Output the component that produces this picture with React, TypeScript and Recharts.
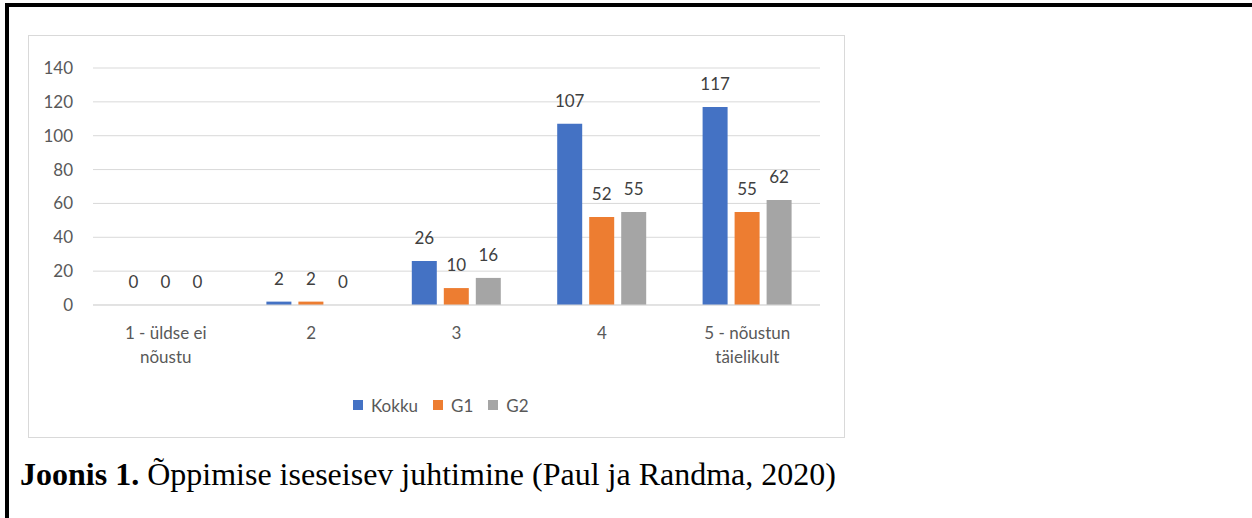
import { Bar, BarChart, CartesianGrid, LabelList, Legend, XAxis, YAxis } from "recharts";

const categories = ["1 - üldse ei\nnõustu", "2", "3", "4", "5 - nõustun\ntäielikult"];
const kokku = [0, 2, 26, 107, 117];
const g1 = [0, 2, 10, 52, 55];
const g2 = [0, 0, 16, 55, 62];
const yTicks = [0, 20, 40, 60, 80, 100, 120, 140];

const series = [
  { key: "Kokku", color: "#4472C4" },
  { key: "G1", color: "#ED7D31" },
  { key: "G2", color: "#A5A5A5" },
];

const data = categories.map((name, i) => ({
  name,
  Kokku: kokku[i],
  G1: g1[i],
  G2: g2[i],
}));

const FONT = "Lato, 'Open Sans', sans-serif";

function CategoryTick({ x, y, payload }: any) {
  const lines = String(payload.value).split("\n");
  return (
    <text x={x} y={y} textAnchor="middle" fill="#595959" fontSize={17} fontFamily={FONT}>
      {lines.map((line, i) => (
        <tspan key={i} x={x} dy={i === 0 ? 34 : 24}>
          {line}
        </tspan>
      ))}
    </text>
  );
}

function LegendContent({ payload }: any) {
  const order = series.map((s) => s.key);
  const items = [...(payload ?? [])].sort(
    (a: any, b: any) => order.indexOf(a.value) - order.indexOf(b.value)
  );
  return (
    <div style={{ display: "flex", alignItems: "center", height: 30, paddingLeft: 324 }}>
      {items.map((p: any, i: number) => (
        <span
          key={p.value}
          style={{ display: "flex", alignItems: "center", marginRight: i < items.length - 1 ? 15 : 0 }}
        >
          <span style={{ width: 10, height: 10, background: p.color, marginRight: 8 }} />
          <span style={{ color: "#595959", fontSize: 17, fontFamily: FONT }}>{p.value}</span>
        </span>
      ))}
    </div>
  );
}

export default function App() {
  return (
    <div style={{ position: "absolute", left: 0, top: 0, width: 1252, height: 518, overflow: "hidden", background: "#fff" }}>
      <div
        style={{
          position: "absolute",
          left: 5,
          top: 3,
          width: 1247,
          height: 515,
          borderTop: "4px solid #000",
          borderLeft: "4px solid #000",
        }}
      />
      <div
        style={{
          position: "absolute",
          left: 28,
          top: 35,
          width: 815,
          height: 401,
          border: "1px solid #d9d9d9",
        }}
      >
        <BarChart
          width={815}
          height={401}
          data={data}
          margin={{ top: 32, right: 24, left: 0, bottom: 17 }}
          barCategoryGap={28}
          barGap={7}
          style={{ fontFamily: FONT }}
        >
          <CartesianGrid vertical={false} stroke="#d9d9d9" />
          <XAxis
            dataKey="name"
            height={85}
            axisLine={{ stroke: "#d9d9d9" }}
            tickLine={false}
            tickSize={0}
            tickMargin={0}
            interval={0}
            tick={<CategoryTick />}
          />
          <YAxis
            width={64}
            domain={[0, 140]}
            ticks={yTicks}
            axisLine={false}
            tickLine={false}
            tickSize={0}
            tickMargin={20}
            tick={{ fill: "#595959", fontSize: 17, fontFamily: FONT }}
          />
          <Legend
            verticalAlign="bottom"
            content={<LegendContent />}
            wrapperStyle={{ left: 0, width: 815 }}
          />
          {series.map((s) => (
            <Bar
              key={s.key}
              dataKey={s.key}
              fill={s.color}
              minPointSize={(v: number) => (v === 0 ? 0.01 : 0)}
              isAnimationActive={false}
            >
              <LabelList
                dataKey={s.key}
                position="top"
                offset={17}
                fill="#404040"
                fontSize={17}
                fontFamily={FONT}
                formatter={(v: any) => `${v}`}
              />
            </Bar>
          ))}
        </BarChart>
      </div>
      <div
        style={{
          position: "absolute",
          left: 20,
          top: 458,
          fontFamily: "'Liberation Serif', 'Times New Roman', serif",
          fontSize: 32,
          lineHeight: "32px",
          color: "#000",
          whiteSpace: "nowrap",
        }}
      >
        <b>Joonis 1.</b> Õppimise iseseisev juhtimine (Paul ja Randma, 2020)
      </div>
    </div>
  );
}
